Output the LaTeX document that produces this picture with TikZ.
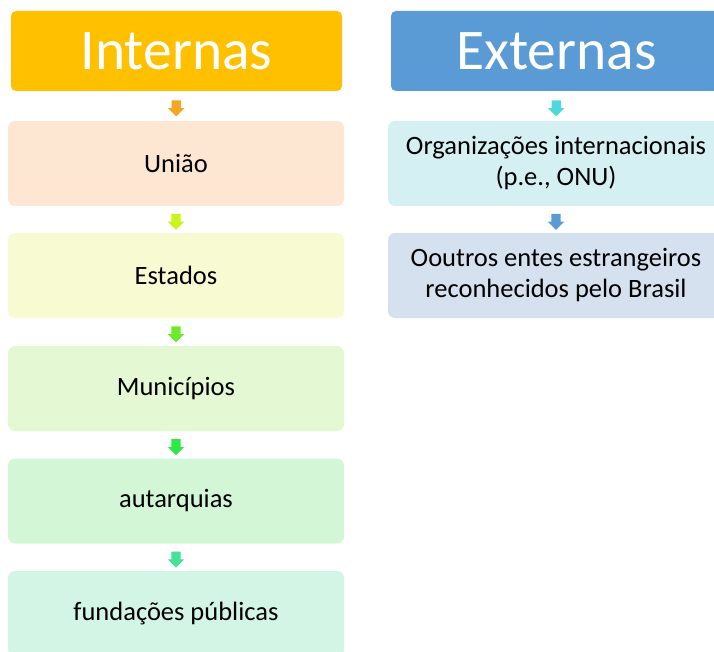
\documentclass[tikz,border=0pt]{standalone}
\usepackage{fontspec}
\setmainfont{Carlito}
\usetikzlibrary{shapes.arrows}
\definecolor{hdrA}{HTML}{FFC000}
\definecolor{hdrB}{HTML}{5B9BD5}
\definecolor{bUniao}{HTML}{FDE7D3}
\definecolor{bEstados}{HTML}{F8FAD2}
\definecolor{bMun}{HTML}{E3F8D3}
\definecolor{bAut}{HTML}{D3F7D6}
\definecolor{bFund}{HTML}{D3F5E6}
\definecolor{bOrg}{HTML}{D5F0F2}
\definecolor{bOut}{HTML}{D6E1EF}
\definecolor{aA}{HTML}{F5A623}
\definecolor{aB}{HTML}{C8F51A}
\definecolor{aC}{HTML}{6CEB2A}
\definecolor{aD}{HTML}{2EE845}
\definecolor{aE}{HTML}{45E09A}
\definecolor{aF}{HTML}{4DD9DC}
\definecolor{aG}{HTML}{5B9BD5}
\tikzset{
  hdr/.style={rounded corners=5pt, minimum width=331pt, minimum height=80pt,
    inner sep=0pt, text=white, font=\fontsize{57.5}{60}\selectfont},
  item/.style={rounded corners=7pt, minimum width=336pt, minimum height=85pt,
    inner sep=0pt, text=black, align=center, font=\fontsize{26.5}{31}\selectfont},
  downarr/.style={single arrow, shape border rotate=270, minimum height=16pt,
    inner sep=4.5pt, single arrow head extend=3.5pt, draw=none}
}
\begin{document}
\begin{tikzpicture}[x=1pt,y=-1pt]
\useasboundingbox (0,0) rectangle (714,652);
\clip (0,0) rectangle (714,652);
% left column
\node[hdr, fill=hdrA] (int) at (176.5,51) {Internas};
\node[item, fill=bUniao] (uniao) at (176,163.5) {União};
\node[item, fill=bEstados] (est) at (176,275.5) {Estados};
\node[item, fill=bMun] (mun) at (176,388.5) {Municípios};
\node[item, fill=bAut] (aut) at (176,501) {autarquias};
\node[item, fill=bFund] (fund) at (176,613.5) {fundações públicas};
% right column
\node[hdr, fill=hdrB] (ext) at (556.5,51) {Externas};
\node[item, fill=bOrg] (org) at (556,163.5) {Organizações internacionais\\(p.e., ONU)};
\node[item, fill=bOut] (out) at (556,275.5) {Ooutros entes estrangeiros\\reconhecidos pelo Brasil};
% arrows
\path (int.south) -- (uniao.north) node[midway, downarr, fill=aA] {};
\path (uniao.south) -- (est.north) node[midway, downarr, fill=aB] {};
\path (est.south) -- (mun.north) node[midway, downarr, fill=aC] {};
\path (mun.south) -- (aut.north) node[midway, downarr, fill=aD] {};
\path (aut.south) -- (fund.north) node[midway, downarr, fill=aE] {};
\path (ext.south) -- (org.north) node[midway, downarr, fill=aF] {};
\path (org.south) -- (out.north) node[midway, downarr, fill=aG] {};
\end{tikzpicture}
\end{document}
